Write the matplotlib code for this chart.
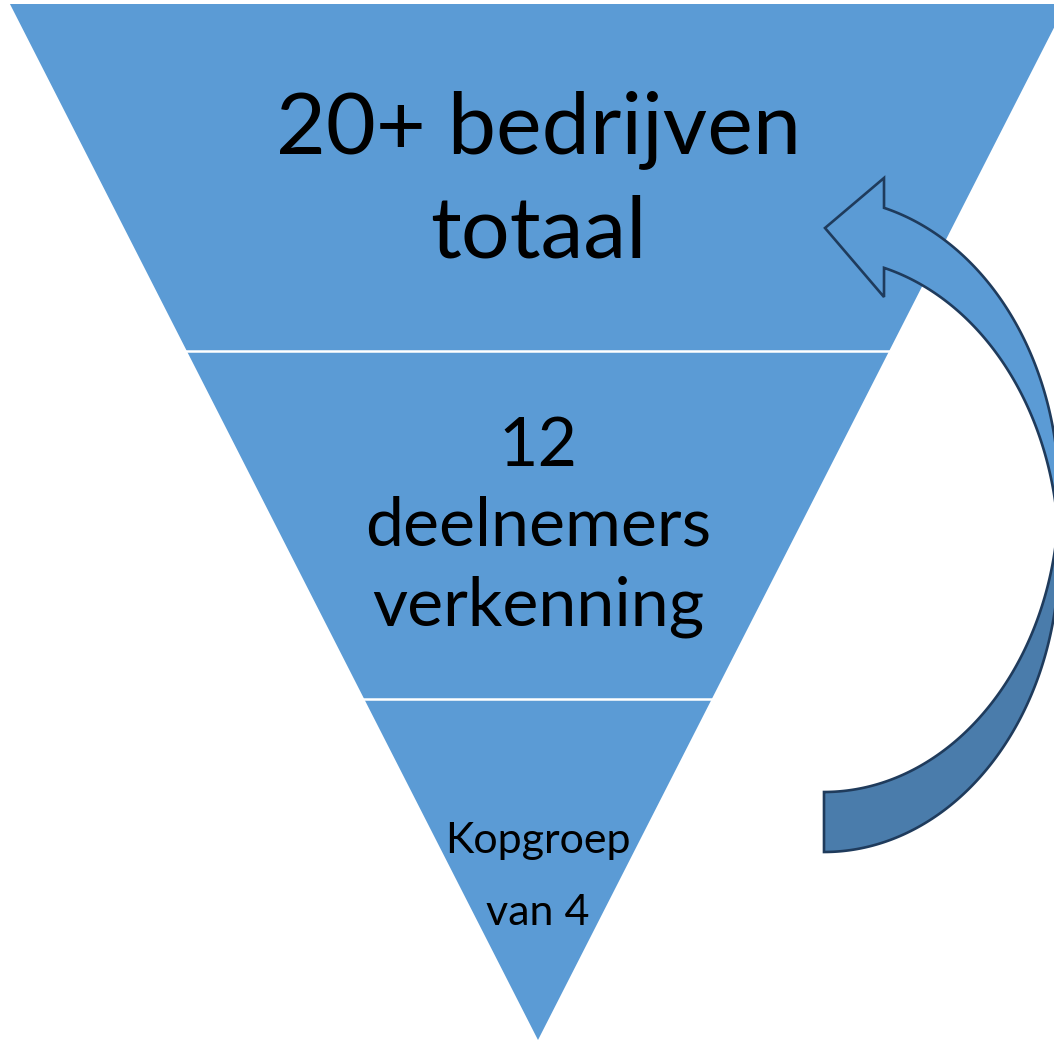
import numpy as np
import matplotlib.pyplot as plt
from matplotlib.patches import Polygon

# funnel levels, top to bottom
level_lines = [
    ['20+ bedrijven', 'totaal'],
    ['12', 'deelnemers', 'verkenning'],
    ['Kopgroep', 'van 4'],
]
level_baselines = [
    [153, 257],
    [466, 546, 625],
    [853, 925],
]
level_sizes = [62, 49, 31]
split_y = [351, 699]

blue = '#5B9BD5'
dark_blue = '#4A7CAB'
edge = '#1F3B5C'

fig = plt.figure(figsize=(10.54, 10.41), dpi=100)
ax = fig.add_axes([0, 0, 1, 1])
ax.set_xlim(0, 1054)
ax.set_ylim(1041, 0)
ax.axis('off')

# inverted triangle
cx, top, apex = 538, 4, 1040
k = 0.5097
half = lambda y: k * (apex - y)
ax.add_patch(Polygon([(cx - half(top), top), (cx + half(top), top), (cx, apex)],
                     closed=True, facecolor=blue, edgecolor='none'))
for y in split_y:
    ax.plot([cx - half(y) - 2, cx + half(y) + 2], [y, y], color='white', lw=1.8)

for lines, bases, fs in zip(level_lines, level_baselines, level_sizes):
    for txt, b in zip(lines, bases):
        ax.text(cx, b, txt, ha='center', va='baseline', fontsize=fs,
                family='Lato', color='black')

# curved arrow (two vertically offset ellipses)
ecx, rx, ry = 824, 235, 297
cyA, cyB = 495, 555


def arc(cy, t0, t1, n=200):
    t = np.linspace(t0, t1, n)
    return list(zip(ecx + rx * np.cos(t), cy + ry * np.sin(t)))


t_head = np.arctan2(-287 / 297, 60 / rx)
tA_cross = np.arcsin(30 / ry)
tB_cross = np.arcsin(-30 / ry)

back = arc(cyA, tA_cross, np.pi / 2) + arc(cyB, np.pi / 2, tB_cross)
ax.add_patch(Polygon(back, closed=True, facecolor=dark_blue, edgecolor=edge,
                     lw=1.9, joinstyle='miter'))

front = [(825, 228), (884, 178)] + arc(cyA, t_head, tA_cross) + \
    arc(cyB, tB_cross, t_head) + [(884, 297)]
ax.add_patch(Polygon(front, closed=True, facecolor=blue, edgecolor=edge,
                     lw=1.9, joinstyle='miter'))

fig.savefig('out.png', dpi=100)
